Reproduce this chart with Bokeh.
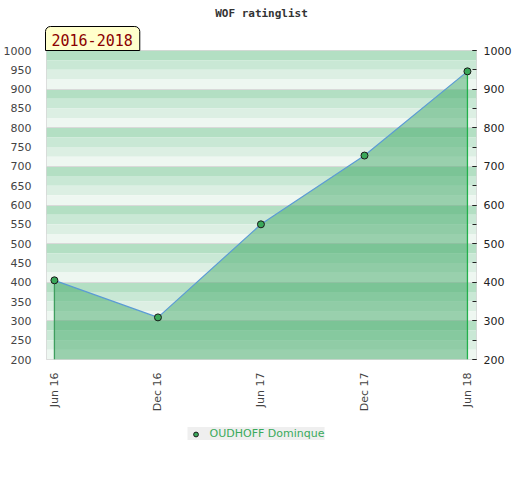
import pandas as pd
import math
from bokeh.plotting import figure
from bokeh.layouts import column
from bokeh.models import (Range1d, FixedTicker, LinearAxis, Title, Legend, LegendItem,
                          DatetimeTickFormatter, ColumnDataSource)
from bokeh.embed import file_html
from bokeh.resources import INLINE

title_text = "WOF ratinglist"
period_text = "2016-2018"
series_name = "OUDHOFF Dominque"
dates = ["2016-06-01", "2016-12-01", "2017-06-01", "2017-12-01", "2018-06-01"]
ratings = [405, 309, 550, 728, 946]
left_ticks = list(range(200, 1001, 50))
right_ticks = list(range(200, 1001, 100))
band_colors = ["#b3dfc3", "#c9e8d5", "#dcefe3", "#eef7f1"]

x = list(pd.to_datetime(dates))
x_start = pd.Timestamp("2016-05-18")
x_end = pd.Timestamp("2018-06-17")

marker_kw = dict(size=7, fill_color="#3aa85a", line_color="#1a1a1a", line_width=1)

p = figure(frame_width=430, frame_height=309, x_axis_type="datetime",
           x_range=Range1d(x_start, x_end), y_range=Range1d(200, 1000),
           output_backend="svg", toolbar_location=None)
p.title.visible = False
p.xgrid.visible = False
p.ygrid.visible = False
p.outline_line_color = "#d6d6d6"
p.outline_line_width = 1
p.background_fill_color = "white"

# background bands
bottoms, tops, cols = [], [], []
for base in right_ticks[:-1]:
    for i, c in enumerate(band_colors):
        top = base + 100 - 25 * i
        tops.append(top)
        bottoms.append(top - 25)
        cols.append(c)
p.quad(left=x_start, right=x_end, bottom=bottoms, top=tops, fill_color=cols, line_color=None)
p.hspan(y=right_ticks, line_color="#d9d9d9", line_width=1)

p.varea(x=x, y1=200, y2=ratings, fill_color="#43a969", fill_alpha=0.5)
p.segment(x0=[x[0], x[-1]], y0=[200, 200], x1=[x[0], x[-1]], y1=[ratings[0], ratings[-1]],
          line_color=["#3f9e5f", "#22b04c"], line_width=1.3)
p.line(x, ratings, line_color="#5b9bd5", line_width=1.2)
p.scatter(x, ratings, **marker_kw)

# left axis
ya = p.yaxis[0]
ya.ticker = FixedTicker(ticks=left_ticks)
ya.axis_line_color = None
ya.major_tick_line_color = None
ya.minor_tick_line_color = None
ya.major_label_text_font = "DejaVu Sans"
ya.major_label_text_font_size = "11px"
ya.major_label_text_color = "#444444"
ya.major_label_standoff = 9

# right axis
ra = LinearAxis(ticker=FixedTicker(ticks=right_ticks, minor_ticks=left_ticks))
ra.axis_line_color = None
ra.major_tick_in = 4
ra.major_tick_out = 0
ra.minor_tick_in = 4
ra.minor_tick_out = 0
ra.major_tick_line_color = "#222222"
ra.minor_tick_line_color = "#222222"
ra.major_label_text_font = "DejaVu Sans"
ra.major_label_text_font_size = "11px"
ra.major_label_text_color = "#222222"
ra.major_label_standoff = 7
p.add_layout(ra, "right")

# x axis
xa = p.xaxis[0]
xa.ticker = FixedTicker(ticks=[t.value // 10**6 for t in x])
fmt = "%b %y"
xa.formatter = DatetimeTickFormatter(milliseconds=fmt, seconds=fmt, minsec=fmt, minutes=fmt,
                                     hourmin=fmt, hours=fmt, days=fmt, months=fmt, years=fmt)
xa.major_label_orientation = math.pi / 2
xa.axis_line_color = None
xa.major_tick_line_color = None
xa.minor_tick_line_color = None
xa.major_label_text_font = "DejaVu Sans"
xa.major_label_text_font_size = "11px"
xa.major_label_text_color = "#444444"
xa.major_label_standoff = 7

# titles
t_period = Title(text=period_text, align="left", text_font="DejaVu Sans Mono",
                 text_font_size="15px", text_font_style="normal", text_color="#8b0000",
                 background_fill_color="#ffffcc", border_line_color="#000000",
                 border_line_width=1, standoff=0, offset=-1,
                 padding=dict(left=6, right=7, top=7, bottom=5),
                 border_radius=dict(top_left=5, top_right=5, bottom_left=0, bottom_right=0))
p.add_layout(t_period, "above")
t_main = Title(text=title_text, align="center", text_font="DejaVu Sans Mono",
               text_font_size="11px", text_font_style="bold", text_color="#333333", standoff=9)
p.add_layout(t_main, "above")

# legend strip (its one point lies outside the strip's ranges and is clipped away)
lf = figure(width=p.frame_width + 74, height=50, output_backend="svg", toolbar_location=None,
            x_axis_location=None, y_axis_location=None, min_border=0,
            x_range=Range1d(0, 1), y_range=Range1d(0, 1))
lf.xgrid.visible = False
lf.ygrid.visible = False
lf.outline_line_color = None
lr = lf.scatter(x="x", y="y", source=ColumnDataSource(dict(x=x[:1], y=ratings[:1])), **marker_kw)
legend = Legend(items=[LegendItem(label=series_name, renderers=[lr])],
                location="top_center", orientation="horizontal",
                background_fill_color="#efefef", background_fill_alpha=1,
                border_line_color=None, label_text_color="#3aaa5c",
                label_text_font="DejaVu Sans", label_text_font_size="11px",
                glyph_width=16, glyph_height=12, label_height=12, label_standoff=6,
                padding=5, margin=13)
lf.add_layout(legend, "center")

layout = column(p, lf, spacing=0)
open("out.html", "w").write(file_html(layout, INLINE))
